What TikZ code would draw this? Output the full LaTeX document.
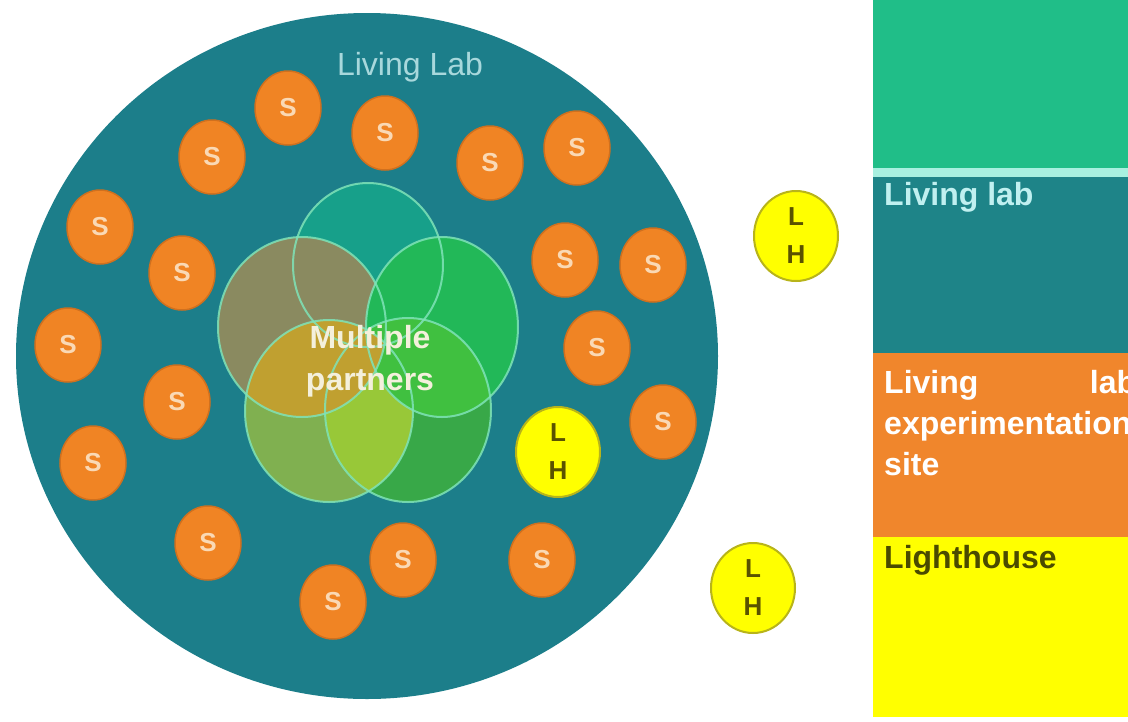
\documentclass[tikz,border=0pt]{standalone}
\usepackage{fontspec}
\setmainfont{Liberation Sans}
\usetikzlibrary{shapes.geometric}
\definecolor{bgteal}{HTML}{1C7E8A}
\definecolor{sorange}{HTML}{F08424}
\definecolor{sborder}{HTML}{D0701E}
\definecolor{stext}{HTML}{FAD9B5}
\definecolor{lhyellow}{HTML}{FFFF00}
\definecolor{lhborder}{HTML}{B8B41A}
\definecolor{lhtext}{HTML}{5A5200}
\definecolor{titletext}{HTML}{A8D8DC}
\definecolor{mptext}{HTML}{F4F0DC}
\definecolor{vline}{HTML}{7FE3B8}
\definecolor{cT}{HTML}{17A08A}
\definecolor{cL}{HTML}{8A8A60}
\definecolor{cR}{HTML}{22B858}
\definecolor{cBL}{HTML}{80B050}
\definecolor{cBR}{HTML}{38A848}
\definecolor{cBLBR}{HTML}{98C838}
\definecolor{cRBL}{HTML}{6CC03C}
\definecolor{cRBR}{HTML}{40C040}
\definecolor{cLBL}{HTML}{C0A030}
\definecolor{lgreen}{HTML}{20BE88}
\definecolor{lstrip}{HTML}{A8F0E0}
\definecolor{lteal}{HTML}{1E8488}
\definecolor{lorange}{HTML}{F0862C}
\definecolor{lyellow}{HTML}{FFFF00}
\definecolor{ltealtext}{HTML}{C0F0F0}
\definecolor{lolive}{HTML}{4A4A00}
\begin{document}
\begin{tikzpicture}[x=1pt,y=-1pt,
  scirc/.style={ellipse, fill=sorange, draw=sborder, line width=1.5pt,
    minimum width=66pt, minimum height=74pt, inner sep=0pt, text=stext,
    font=\fontsize{26}{30}\selectfont\bfseries},
  lhcirc/.style={ellipse, fill=lhyellow, draw=lhborder, line width=2pt,
    minimum width=84pt, minimum height=90pt, inner sep=0pt, text=lhtext,
    align=center, font=\fontsize{26}{38}\selectfont\bfseries},
  vedge/.style={draw=vline, line width=2pt, draw opacity=0.85},
  legtext/.style={inner sep=0pt, font=\fontsize{32}{41}\selectfont\bfseries}]
\useasboundingbox (0,0) rectangle (1128,721);
\fill[white] (0,0) rectangle (1128,721);

% big living lab circle
\node[ellipse, fill=bgteal, minimum width=702pt, minimum height=686pt, inner sep=0pt] (lab) at (367,356) {};
\node[inner sep=0pt, anchor=base, text=titletext, font=\fontsize{32}{38}\selectfont] (labtitle) at (410,75) {Living Lab};

% venn of partners
\coordinate (vT) at (368,265);
\coordinate (vL) at (302,327);
\coordinate (vR) at (442,327);
\coordinate (vBL) at (329,411);
\coordinate (vBR) at (408,410);
\fill[cT] (vT) ellipse [x radius=75pt, y radius=82pt];
\fill[cL] (vL) ellipse [x radius=84pt, y radius=90pt];
\fill[cR] (vR) ellipse [x radius=76pt, y radius=90pt];
\fill[cBL] (vBL) ellipse [x radius=84pt, y radius=91pt];
\fill[cBR] (vBR) ellipse [x radius=83pt, y radius=92pt];
\begin{scope}
  \clip (vBL) ellipse [x radius=84pt, y radius=91pt];
  \fill[cBLBR] (vBR) ellipse [x radius=83pt, y radius=92pt];
\end{scope}
\begin{scope}
  \clip (vR) ellipse [x radius=76pt, y radius=90pt];
  \fill[cRBL] (vBL) ellipse [x radius=84pt, y radius=91pt];
  \fill[cRBR] (vBR) ellipse [x radius=83pt, y radius=92pt];
\end{scope}
\begin{scope}
  \clip (vL) ellipse [x radius=84pt, y radius=90pt];
  \fill[cLBL] (vBL) ellipse [x radius=84pt, y radius=91pt];
\end{scope}
\path[vedge] (vT) ellipse [x radius=75pt, y radius=82pt];
\path[vedge] (vL) ellipse [x radius=84pt, y radius=90pt];
\path[vedge] (vR) ellipse [x radius=76pt, y radius=90pt];
\path[vedge] (vBL) ellipse [x radius=84pt, y radius=91pt];
\path[vedge] (vBR) ellipse [x radius=83pt, y radius=92pt];
\node[inner sep=0pt, anchor=north, align=center, text=mptext,
  font=\fontsize{32}{42}\selectfont\bfseries] (mp) at (370,325) {Multiple\\partners};

% stakeholders
\node[scirc] (s1) at (288,108) {S};
\node[scirc] (s2) at (385,133) {S};
\node[scirc] (s3) at (212,157) {S};
\node[scirc] (s4) at (490,163) {S};
\node[scirc] (s5) at (577,148) {S};
\node[scirc] (s6) at (100,227) {S};
\node[scirc] (s7) at (182,273) {S};
\node[scirc] (s8) at (565,260) {S};
\node[scirc] (s9) at (653,265) {S};
\node[scirc] (s10) at (68,345) {S};
\node[scirc] (s11) at (597,348) {S};
\node[scirc] (s12) at (177,402) {S};
\node[scirc] (s13) at (663,422) {S};
\node[scirc] (s14) at (93,463) {S};
\node[scirc] (s15) at (208,543) {S};
\node[scirc] (s16) at (403,560) {S};
\node[scirc] (s17) at (542,560) {S};
\node[scirc] (s18) at (333,602) {S};

% lighthouses
\node[lhcirc] (lh1) at (558,452) {L\\H};
\node[lhcirc] (lh2) at (796,236) {L\\H};
\node[lhcirc] (lh3) at (753,588) {L\\H};

% legend
\fill[lgreen] (873,0) rectangle (1128,168);
\fill[lstrip] (873,168) rectangle (1128,177);
\fill[lteal] (873,177) rectangle (1128,353);
\fill[lorange] (873,353) rectangle (1128,537);
\fill[lyellow] (873,537) rectangle (1128,717);
\node[legtext, text=ltealtext, anchor=base west] (leg1) at (884,205) {Living lab};
\node[legtext, text=white, anchor=north west, text width=252pt, align=left] (leg2) at (884,370) {Living\hfill lab\\experimentation\\site};
\node[legtext, text=lolive, anchor=base west] (leg3) at (884,568) {Lighthouse};
\end{tikzpicture}
\end{document}
